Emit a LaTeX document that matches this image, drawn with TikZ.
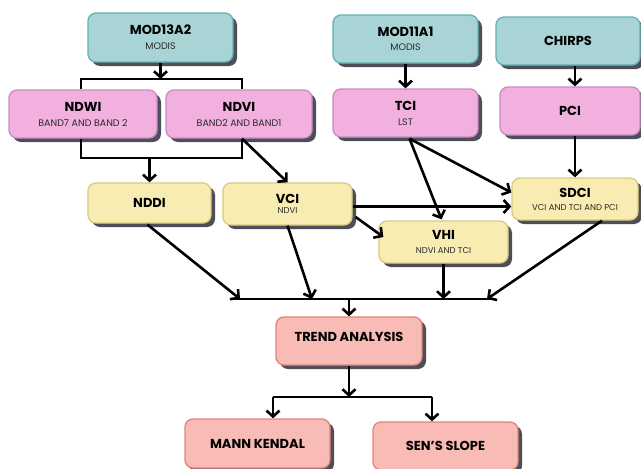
\documentclass[tikz,border=0pt]{standalone}
\usepackage{fontspec}
\setmainfont{Poppins}
\usetikzlibrary{arrows.meta,shadows,calc}
\definecolor{tealF}{HTML}{A9D4D6}
\definecolor{tealD}{HTML}{63B2B4}
\definecolor{pinkF}{HTML}{F1B0DD}
\definecolor{pinkD}{HTML}{C88AC8}
\definecolor{yelF}{HTML}{F8ECB3}
\definecolor{yelD}{HTML}{D9CB7D}
\definecolor{salF}{HTML}{F9BBB5}
\definecolor{salD}{HTML}{E0837B}
\definecolor{shadowc}{HTML}{4E4E5A}
\definecolor{subc}{HTML}{2A2A2A}
\newcommand{\ttl}{\fontsize{13}{15}\selectfont\bfseries}
\newcommand{\subt}{\fontsize{9.5}{12}\selectfont\color{subc}}
\newcommand{\subs}{\fontsize{8.5}{10}\selectfont\color{subc}}
\begin{document}
\begin{tikzpicture}[x=1pt,y=-1pt,
  box/.style={rectangle, rounded corners=8pt, line width=1.3pt, align=center,
    inner sep=0pt, text=black,
    general shadow={shadow xshift=4pt, shadow yshift=-4pt, fill=shadowc}},
  srcbox/.style={box, fill=tealF, draw=tealD},
  idxbox/.style={box, fill=pinkF, draw=pinkD},
  ylbox/.style={box, fill=yelF, draw=yelD},
  trbox/.style={box, fill=salF, draw=salD},
  arr/.style={line width=2.6pt, -{Straight Barb[length=6pt,width=13pt]}},
  thk/.style={line width=2pt},
  thn/.style={line width=1.2pt}]
\useasboundingbox (0,0) rectangle (641,469);
\clip (0,0) rectangle (641,469);

% sources
\node[srcbox, minimum width=145pt, minimum height=49pt] (mod13) at (160.5,37.5) {\ttl MOD13A2\\[3pt]\subt MODIS};
\node[srcbox, minimum width=145pt, minimum height=48pt] (mod11) at (405.5,39) {\ttl MOD11A1\\[2pt]\subt MODIS};
\node[srcbox, minimum width=144pt, minimum height=48pt] (chirps) at (568,41) {\ttl CHIRPS};

% indices
\node[idxbox, minimum width=148pt, minimum height=48pt] (ndwi) at (83,114) {\ttl NDWI\\[3pt]\subt BAND7 AND BAND 2};
\node[idxbox, minimum width=146pt, minimum height=48pt] (ndvi) at (239,114) {\ttl NDVI\\[3pt]\subt BAND2 AND BAND1};
\node[idxbox, minimum width=145pt, minimum height=48pt] (tci) at (405.5,113) {\ttl TCI\\[3pt]\subt LST};
\node[idxbox, minimum width=140pt, minimum height=48pt] (pci) at (570,111) {\ttl PCI};

% derived
\node[ylbox, minimum width=123pt, minimum height=40pt] (nddi) at (149.5,203) {\ttl NDDI};
\node[ylbox, minimum width=129pt, minimum height=42pt] (vci) at (287.5,204) {\ttl VCI\\[-2pt]\subs NDVI};
\node[ylbox, minimum width=126pt, minimum height=42pt] (sdci) at (575,199) {\ttl SDCI\\[1pt]\subs VCI AND TCI AND PCI};
\node[ylbox, minimum width=129pt, minimum height=42pt] (vhi) at (443.5,242) {\ttl VHI\\[2pt]\subs NDVI AND TCI};

% trend
\node[trbox, minimum width=146pt, minimum height=48pt] (trend) at (349,341) {\ttl TREND ANALYSIS\\[-4pt]};
\node[trbox, minimum width=145pt, minimum height=49pt] (mann) at (257.5,443.5) {\ttl MANN KENDAL};
\node[trbox, minimum width=145pt, minimum height=48pt] (sen) at (445.5,446) {\ttl SEN'S SLOPE};

% top bracket
\coordinate (b1l) at (81,79);
\coordinate (b1r) at (242,79);
\draw[thn] (ndwi.north -| b1l) -- (b1l) -- (b1r) -- (ndvi.north -| b1r);
\draw[arr] (mod13.south) -- (mod13.south |- b1l);

% lower bracket
\coordinate (b2l) at (81,158);
\coordinate (b2r) at (242,158);
\coordinate (b2m) at (149.5,158);
\draw[thn] (ndwi.south -| b2l) -- (b2l) -- (b2r) -- (ndvi.south -| b2r);
\draw[arr] (b2m) -- (nddi.north);
\draw[arr] (ndvi.south -| b2r) -- (vci.north);

% right sources
\draw[arr] (mod11.south) -- (tci.north);
\draw[arr] (chirps.south -| sdci.north) -- (pci.north -| sdci.north);
\draw[arr] (pci.south -| sdci.north) -- (sdci.north);

% TCI arrows
\coordinate (tcis) at ($(tci.south)+(4,1)$);
\draw[arr] (tcis) -- ($(sdci.north west)!0.35!(sdci.south west)$);
\draw[arr] (tcis) -- ($(vhi.north)+(-2,-1)$);

% VCI arrows
\coordinate (ve) at ($(vci.east)+(0,2.5)$);
\draw[arr] (ve) -- (ve -| sdci.west);
\draw[arr] ($(vci.east)+(3,13)$) -- ($(vhi.west)+(5,-5)$);

% bus
\coordinate (busl) at (234,299);
\coordinate (busr) at (492,299);
\coordinate (t1) at (240,299);
\coordinate (t2) at (312,299);
\coordinate (t3) at (443.5,299);
\coordinate (t4) at (487,299);
\coordinate (tm) at (349,299);
\draw[thk] (busl) -- (busr);
\draw[arr] ($(nddi.south)+(-2,1)$) -- (t1);
\draw[arr] (vci.south) -- (t2);
\draw[arr] (vhi.south) -- (t3);
\draw[arr] ($(sdci.south)+(27,0)$) -- (t4);
\draw[arr] (tm) -- (trend.north);

% split
\coordinate (sm) at (349,397);
\coordinate (s1) at (273,397);
\coordinate (s2) at (432,397);
\draw[arr] (trend.south) -- (sm);
\draw[thk] (s1) -- (s2);
\draw[arr] (s1) -- (s1 |- mann.north);
\draw[arr] (s2) -- (s2 |- sen.north);
\end{tikzpicture}
\end{document}
